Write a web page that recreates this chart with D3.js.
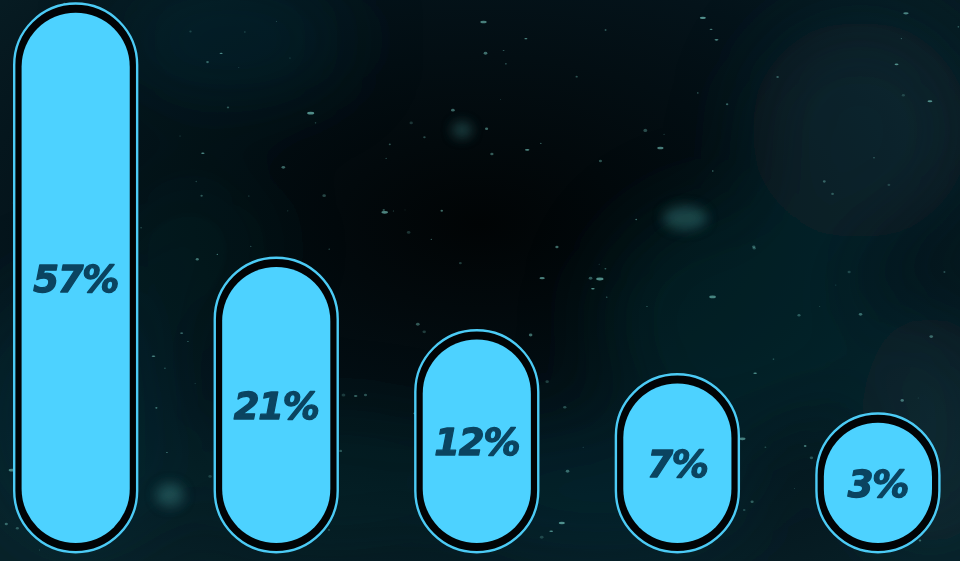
<!DOCTYPE html>
<html>
<head>
<meta charset="utf-8">
<script src="https://cdn.jsdelivr.net/npm/d3@7"></script>
<style>
html,body{margin:0;padding:0;background:#03080b;overflow:hidden;}
svg{display:block;}
</style>
</head>
<body>
<svg id="chart" width="960" height="561"></svg>
<script>
// ---- data ----
const categories = ["c1", "c2", "c3", "c4", "c5"];
const values = [57, 21, 12, 7, 3];
const labels = ["57%", "21%", "12%", "7%", "3%"];

// ---- layout ----
const W = 960, H = 561;
const svg = d3.select("#chart");
const defs = svg.append("defs");

// background
const bg = defs.append("radialGradient").attr("id", "bgGrad")
  .attr("cx", "50%").attr("cy", "40%").attr("r", "75%");
bg.append("stop").attr("offset", "0%").attr("stop-color", "#010405");
bg.append("stop").attr("offset", "60%").attr("stop-color", "#04131a");
bg.append("stop").attr("offset", "100%").attr("stop-color", "#082027");
svg.append("rect").attr("width", W).attr("height", H).attr("fill", "url(#bgGrad)");

const blur = defs.append("filter").attr("id", "blur").attr("x", "-50%").attr("y", "-50%").attr("width", "200%").attr("height", "200%");
blur.append("feGaussianBlur").attr("stdDeviation", 40);
const blurS = defs.append("filter").attr("id", "blurS").attr("x", "-50%").attr("y", "-50%").attr("width", "200%").attr("height", "200%");
blurS.append("feGaussianBlur").attr("stdDeviation", 6);
const blurD = defs.append("filter").attr("id", "blurD");
blurD.append("feGaussianBlur").attr("stdDeviation", 0.6);

// nebula clouds (decorative)
const clouds = [
  [230, 40, 120, 60, 0.25], [80, 420, 110, 140, 0.25], [860, 130, 110, 110, 0.3],
  [740, 320, 140, 120, 0.28], [600, 490, 160, 70, 0.25], [330, 480, 140, 60, 0.2],
  [930, 430, 70, 120, 0.3], [190, 250, 80, 80, 0.15]
];
const cg = svg.append("g").attr("filter", "url(#blur)");
cg.selectAll("ellipse").data(clouds).join("ellipse")
  .attr("cx", d => d[0]).attr("cy", d => d[1]).attr("rx", d => d[2]).attr("ry", d => d[3])
  .attr("fill", "#134952").attr("opacity", d => d[4]);
svg.append("g").attr("filter", "url(#blurS)").selectAll("ellipse")
  .data([[462, 130, 10, 8], [685, 218, 22, 12], [170, 495, 14, 12]]).join("ellipse")
  .attr("cx", d => d[0]).attr("cy", d => d[1]).attr("rx", d => d[2]).attr("ry", d => d[3])
  .attr("fill", "#3c8c8c").attr("opacity", 0.4);

// dust specks (deterministic)
const rnd = d3.randomLcg(0.4242);
const specks = d3.range(170).map(() => [rnd() * W, rnd() * H, 0.5 + rnd() * 1.4, rnd()]);
svg.append("g").attr("filter", "url(#blurD)").selectAll("ellipse").data(specks).join("ellipse")
  .attr("cx", d => d[0]).attr("cy", d => d[1])
  .attr("rx", d => d[2] * (d[3] > 0.7 ? 2 : 1)).attr("ry", d => d[2] * 0.8)
  .attr("fill", "#7fd6cc").attr("opacity", d => 0.2 + d[3] * 0.45);

// ---- scales ----
const x = d3.scaleBand().domain(categories).range([13.0, 940.6]).paddingInner(0.375).paddingOuter(0);
const h = d3.scalePow().exponent(0.84).domain([0, 57]).range([82.6, 530.3]);
const baseY = 543;
const inset = 8.6;
const capGap = 10.4;
const sw = 2.4;

const g = svg.append("g");
const bars = g.selectAll("g.bar").data(values).join("g").attr("class", "bar")
  .attr("transform", (d, i) => `translate(${x(categories[i])},0)`);

const bw = x.bandwidth();
// outer outline pill
bars.append("rect")
  .attr("x", sw / 2)
  .attr("y", d => baseY - h(d) - capGap + sw / 2)
  .attr("width", bw - sw)
  .attr("height", d => h(d) + capGap * 2 - sw)
  .attr("rx", (bw - sw) / 2)
  .attr("fill", "#010406")
  .attr("stroke", "#4ccbf5")
  .attr("stroke-width", sw);

// inner filled pill
const iw = bw - inset * 2;
bars.append("rect")
  .attr("x", inset)
  .attr("y", d => baseY - h(d))
  .attr("width", iw)
  .attr("height", d => h(d))
  .attr("rx", iw / 2)
  .attr("fill", "#4dd2ff");

// labels
bars.append("text")
  .attr("x", bw / 2)
  .attr("y", d => baseY - h(d) / 2)
  .attr("dy", "0.38em")
  .attr("text-anchor", "middle")
  .attr("font-family", "'DejaVu Sans', sans-serif")
  .attr("font-weight", "bold")
  .attr("font-style", "italic")
  .attr("font-size", 37)
  .attr("letter-spacing", -1.2)
  .attr("fill", "#0b4460")
  .attr("stroke", "#0b4460")
  .attr("stroke-width", 1.3)
  .attr("stroke-linejoin", "round")
  .text((d, i) => labels[i]);
</script>
</body>
</html>
